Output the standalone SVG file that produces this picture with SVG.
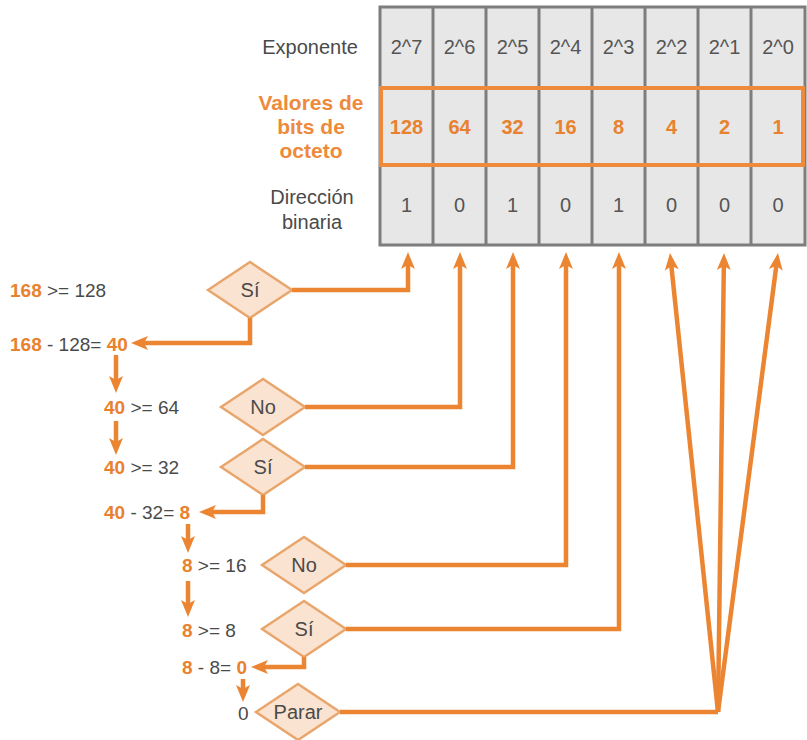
<svg xmlns="http://www.w3.org/2000/svg" width="807" height="740" viewBox="0 0 807 740">
<defs>
<marker id="ah" markerUnits="userSpaceOnUse" viewBox="-10 -10 24 20" refX="0" refY="0" markerWidth="24" markerHeight="20" orient="auto">
<path d="M10,0 L-7,-7 L-3,0 L-7,7 Z" fill="#ec8532"/>
</marker>
</defs>
<style>
text{font-family:"Liberation Sans",Arial,sans-serif;fill:#4a4a4a}
.cell{font-size:20px;text-anchor:middle;fill:#555}
.val{font-size:20px;font-weight:bold;fill:#e8822e;text-anchor:middle}
.hdr{font-size:20px;text-anchor:middle}
.hdro{font-size:21px;font-weight:bold;fill:#ee8a3c;text-anchor:middle}
.lbl{font-size:19px}
.o{fill:#e8822e;font-weight:bold}
.dia{fill:#fbe3d1;stroke:#e8a66c;stroke-width:2.5}
.dt{font-size:20px;text-anchor:middle}
.con{fill:none;stroke:#ec8532;stroke-width:4.5;stroke-linejoin:miter}
.arr{marker-end:url(#ah)}
.grid{stroke:#7d7d7d;stroke-width:3}
</style>

<g id="table">
<rect x="380" y="7" width="425" height="238" fill="#e7e7e8" class="grid"/>
<line class="grid" x1="433" y1="7" x2="433" y2="245"/>
<line class="grid" x1="486" y1="7" x2="486" y2="245"/>
<line class="grid" x1="539" y1="7" x2="539" y2="245"/>
<line class="grid" x1="592" y1="7" x2="592" y2="245"/>
<line class="grid" x1="645" y1="7" x2="645" y2="245"/>
<line class="grid" x1="698" y1="7" x2="698" y2="245"/>
<line class="grid" x1="751" y1="7" x2="751" y2="245"/>
<line class="grid" x1="380" y1="88" x2="805" y2="88"/>
<line class="grid" x1="380" y1="165" x2="805" y2="165"/>
<rect x="381" y="88" width="422" height="77" fill="none" stroke="#ee8a3c" stroke-width="4"/>
<text class="hdr" x="310" y="54">Exponente</text>
<text class="hdro" x="311" y="110">Valores de</text>
<text class="hdro" x="311" y="134">bits de</text>
<text class="hdro" x="311" y="158">octeto</text>
<text class="hdr" x="312" y="204">Dirección</text>
<text class="hdr" x="312" y="229">binaria</text>
<text class="cell" x="406.5" y="54">2^7</text>
<text class="cell" x="459.5" y="54">2^6</text>
<text class="cell" x="512.5" y="54">2^5</text>
<text class="cell" x="565.5" y="54">2^4</text>
<text class="cell" x="618.5" y="54">2^3</text>
<text class="cell" x="671.5" y="54">2^2</text>
<text class="cell" x="724.5" y="54">2^1</text>
<text class="cell" x="778" y="54">2^0</text>
<text class="val" x="406.5" y="134">128</text>
<text class="val" x="459.5" y="134">64</text>
<text class="val" x="512.5" y="134">32</text>
<text class="val" x="565.5" y="134">16</text>
<text class="val" x="618.5" y="134">8</text>
<text class="val" x="671.5" y="134">4</text>
<text class="val" x="724.5" y="134">2</text>
<text class="val" x="778" y="134">1</text>
<text class="cell" x="406.5" y="212">1</text>
<text class="cell" x="459.5" y="212">0</text>
<text class="cell" x="512.5" y="212">1</text>
<text class="cell" x="565.5" y="212">0</text>
<text class="cell" x="618.5" y="212">1</text>
<text class="cell" x="671.5" y="212">0</text>
<text class="cell" x="724.5" y="212">0</text>
<text class="cell" x="778" y="212">0</text>
</g>

<g id="steps">
<text class="lbl" x="10" y="297"><tspan class="o">168</tspan> &gt;= 128</text>
<text class="lbl" x="10" y="351"><tspan class="o">168</tspan> - 128= <tspan class="o">40</tspan></text>
<text class="lbl" x="104" y="414"><tspan class="o">40</tspan> &gt;= 64</text>
<text class="lbl" x="104" y="474"><tspan class="o">40</tspan> &gt;= 32</text>
<text class="lbl" x="104" y="519"><tspan class="o">40</tspan> - 32= <tspan class="o">8</tspan></text>
<text class="lbl" x="182" y="572"><tspan class="o">8</tspan> &gt;= 16</text>
<text class="lbl" x="182" y="637"><tspan class="o">8</tspan> &gt;= 8</text>
<text class="lbl" x="182" y="674"><tspan class="o">8</tspan> - 8= <tspan class="o">0</tspan></text>
<text class="lbl" x="238" y="720">0</text>
</g>

<g id="d1"><polygon class="dia" points="208,290 250,262 292,290 250,318"/><text class="dt" x="250" y="297">Sí</text></g>
<g id="d2"><polygon class="dia" points="221,407 263,379 305,407 263,435"/><text class="dt" x="263" y="414">No</text></g>
<g id="d3"><polygon class="dia" points="221,467 263,439 305,467 263,495"/><text class="dt" x="263" y="474">Sí</text></g>
<g id="d4"><polygon class="dia" points="262,565 304,537 346,565 304,593"/><text class="dt" x="304" y="572">No</text></g>
<g id="d5"><polygon class="dia" points="262,629 304,601 346,629 304,657"/><text class="dt" x="304" y="636">Sí</text></g>
<g id="d6"><polygon class="dia" points="256,712 298,684 340,712 298,740"/><text class="dt" x="298" y="719">Parar</text></g>

<g id="connectors">
<path class="con arr" d="M292,290 H408 V262"/>
<path class="con arr" d="M250,318 V343 H141"/>
<path class="con arr" d="M116,355 V383"/>
<path class="con arr" d="M116,421 V445"/>
<path class="con arr" d="M305,407 H460 V262"/>
<path class="con arr" d="M305,467 H513 V262"/>
<path class="con arr" d="M263,495 V512 H209"/>
<path class="con arr" d="M188,524 V543"/>
<path class="con arr" d="M188,581 V607"/>
<path class="con arr" d="M346,565 H566 V262"/>
<path class="con arr" d="M346,629 H619 V262"/>
<path class="con arr" d="M304,657 V667 H261"/>
<path class="con arr" d="M243,679 V692"/>
<path class="con" d="M340,712 H718"/>
<path class="con arr" d="M718,712 L671.04,262.95"/>
<path class="con arr" d="M718,712 L723.87,263"/>
<path class="con arr" d="M718,712 L776.7,262.9"/>
</g>
</svg>
